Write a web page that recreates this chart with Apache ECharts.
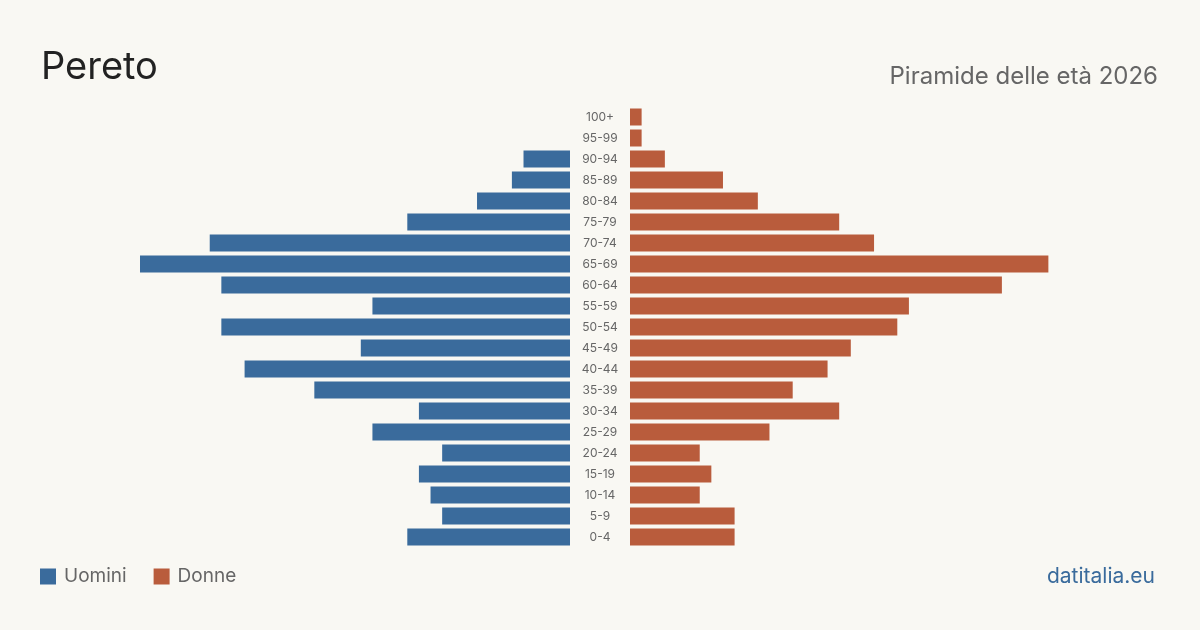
<!DOCTYPE html>
<html>
<head>
<meta charset="utf-8">
<script src="https://cdn.jsdelivr.net/npm/echarts@6/dist/echarts.min.js"></script>
<style>
html,body{margin:0;padding:0;background:#f9f8f3;}
#chart{width:1200px;height:630px;}
</style>
</head>
<body>
<div id="chart"></div>
<script>
// fasce d'età, dall'alto verso il basso
var ageGroups = ['100+','95-99','90-94','85-89','80-84','75-79','70-74','65-69','60-64','55-59','50-54','45-49','40-44','35-39','30-34','25-29','20-24','15-19','10-14','5-9','0-4'];
var uomini = [0,0,4,5,8,14,31,37,30,17,30,18,28,22,13,17,11,13,12,11,14];
var donne  = [1,1,3,8,11,18,21,36,32,24,23,19,17,14,18,12,6,7,6,9,9];
var maxVal = 37;

var chart = echarts.init(document.getElementById('chart'));
var font = 'Inter, "Noto Sans", sans-serif';

var option = {
    backgroundColor: '#f9f8f3',
    animation: false,
    textStyle: {fontFamily: font},
    title: [
        {text: 'Pereto', left: 36, top: 44, textStyle: {fontFamily: font, fontSize: 38, fontWeight: 'normal', color: '#222'}},
        {text: 'Piramide delle età 2026', right: 37, top: 60, textStyle: {fontFamily: font, fontSize: 24, fontWeight: 'normal', color: '#666'}},
        {text: 'datitalia.eu', right: 40, top: 561, textStyle: {fontFamily: font, fontSize: 21, fontWeight: 'normal', color: '#3a6b9c'}}
    ],
    legend: {
        left: 40, top: 567, padding: 0,
        itemWidth: 16, itemHeight: 16, itemGap: 27,
        icon: 'rect',
        textStyle: {fontFamily: font, fontSize: 19, color: '#666', padding: [0, 0, 0, 3]},
        data: ['Uomini', 'Donne']
    },
    grid: [
        {left: 140, width: 430, top: 106.5, height: 441},
        {left: 630, width: 430, top: 106.5, height: 441}
    ],
    xAxis: [
        {gridIndex: 0, type: 'value', min: 0, max: maxVal, inverse: true, show: false},
        {gridIndex: 1, type: 'value', min: 0, max: maxVal, show: false}
    ],
    yAxis: [
        {gridIndex: 0, type: 'category', data: ageGroups, inverse: true, show: false},
        {gridIndex: 1, type: 'category', data: ageGroups, inverse: true,
         axisLine: {show: false}, axisTick: {show: false},
         axisLabel: {align: 'center', margin: 30, fontSize: 12, color: '#666', fontFamily: font}}
    ],
    series: [
        {name: 'Uomini', type: 'bar', xAxisIndex: 0, yAxisIndex: 0, data: uomini,
         barWidth: 17, itemStyle: {color: '#3a6b9c'}},
        {name: 'Donne', type: 'bar', xAxisIndex: 1, yAxisIndex: 1, data: donne,
         barWidth: 17, itemStyle: {color: '#b95c3c'}}
    ]
};
chart.setOption(option);
</script>
</body>
</html>
